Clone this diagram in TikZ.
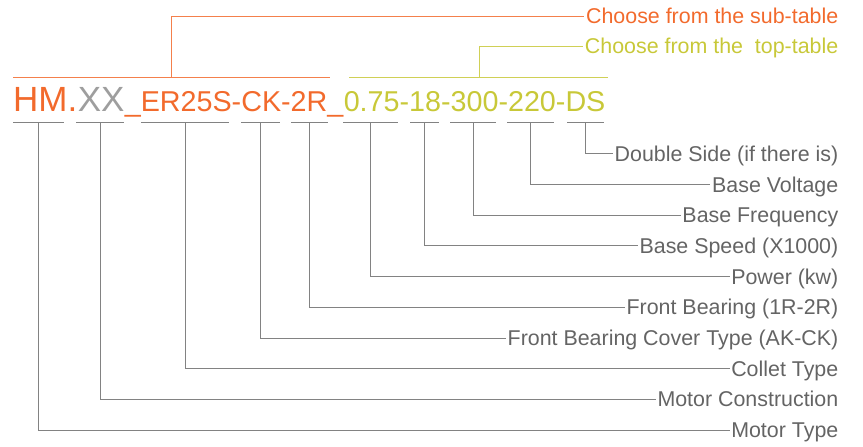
\documentclass[tikz,border=0pt]{standalone}
\usepackage{fontspec}
\setmainfont{Liberation Sans}
\usetikzlibrary{positioning}
\definecolor{codeorange}{RGB}{242,106,44}
\definecolor{codeyellow}{RGB}{200,200,56}
\definecolor{codegray}{RGB}{158,158,158}
\definecolor{taggray}{RGB}{100,100,100}
\definecolor{linegray}{RGB}{130,130,130}

\begin{document}
\begin{tikzpicture}[x=1pt, y=-1pt,
        code/.style={inner sep=0pt, anchor=base west},
        big/.style={font=\fontsize{35}{40}\selectfont},
        small/.style={font=\fontsize{28.7}{33}\selectfont},
        tag/.style={anchor=east, inner xsep=1.5pt, inner ysep=0pt, text height=15pt, text depth=0pt, text=taggray, font=\fontsize{21.4}{25}\selectfont},
        bar/.style={draw=linegray, line width=1pt},
        lead/.style={draw=linegray, line width=1pt},
        subline/.style={draw=codeorange!85, line width=1pt},
        topline/.style={draw=codeyellow!85, line width=1pt}
    ]
        \useasboundingbox (0,0) rectangle (863,447);

        % model code
        \node[code, big, text=codeorange] (hm) at (13,111) {HM.};
        \node[code, big, text=codegray] (xx) at (hm.base east) {XX};
        \node[code, small, text=codeorange] (sub) at (xx.base east) {\_ER25S-CK-2R\_};
        \node[code, small, text=codeyellow] (top) at (sub.base east) {0.75-18-300-220-DS};

        % table hints
        \node[tag, text=codeorange] (subtag) at (840,16) {Choose from the sub-table};
        \node[tag, text=codeyellow] (toptag) at (840,46) {Choose from the\ \ top-table};
        \draw[subline] (13,77) -- (330,77);
        \draw[topline] (349,77) -- (608,77);
        \coordinate (sb) at (171,77);
        \coordinate (tb) at (479,77);
        \draw[subline] (sb) |- (subtag.west);
        \draw[topline] (tb) |- (toptag.west);

        % underlines
        \draw[bar] (13,122) -- (64,122) coordinate[midway] (u1);
        \draw[bar] (76,122) -- (124,122) coordinate[midway] (u2);
        \draw[bar] (141,122) -- (229,122) coordinate[midway] (u3);
        \draw[bar] (241,122) -- (280,122) coordinate[midway] (u4);
        \draw[bar] (291,122) -- (328,122) coordinate[midway] (u5);
        \draw[bar] (343,122) -- (398,122) coordinate[midway] (u6);
        \draw[bar] (410,122) -- (439,122) coordinate[midway] (u7);
        \draw[bar] (450,122) -- (496,122) coordinate[midway] (u8);
        \draw[bar] (507,122) -- (554,122) coordinate[midway] (u9);
        \draw[bar] (567,122) -- (604,122) coordinate[midway] (u10);

        % labels
        \node[tag] (dside) at (840,153.8) {Double Side (if there is)};
        \node[tag] (volt) at (840,184.5) {Base Voltage};
        \node[tag] (freq) at (840,215.2) {Base Frequency};
        \node[tag] (speed) at (840,245.9) {Base Speed (X1000)};
        \node[tag] (power) at (840,276.6) {Power (kw)};
        \node[tag] (front) at (840,307.3) {Front Bearing (1R-2R)};
        \node[tag] (cover) at (840,338) {Front Bearing Cover Type (AK-CK)};
        \node[tag] (collet) at (840,368.7) {Collet Type};
        \node[tag] (mcons) at (840,399.4) {Motor Construction};
        \node[tag] (mtype) at (840,430) {Motor Type};

        \draw[lead] (u1) |- (mtype.west);
        \draw[lead] (u2) |- (mcons.west);
        \draw[lead] (u3) |- (collet.west);
        \draw[lead] (u4) |- (cover.west);
        \draw[lead] (u5) |- (front.west);
        \draw[lead] (u6) |- (power.west);
        \draw[lead] (u7) |- (speed.west);
        \draw[lead] (u8) |- (freq.west);
        \draw[lead] (u9) |- (volt.west);
        \draw[lead] (u10) |- (dside.west);
    \end{tikzpicture}
\end{document}
